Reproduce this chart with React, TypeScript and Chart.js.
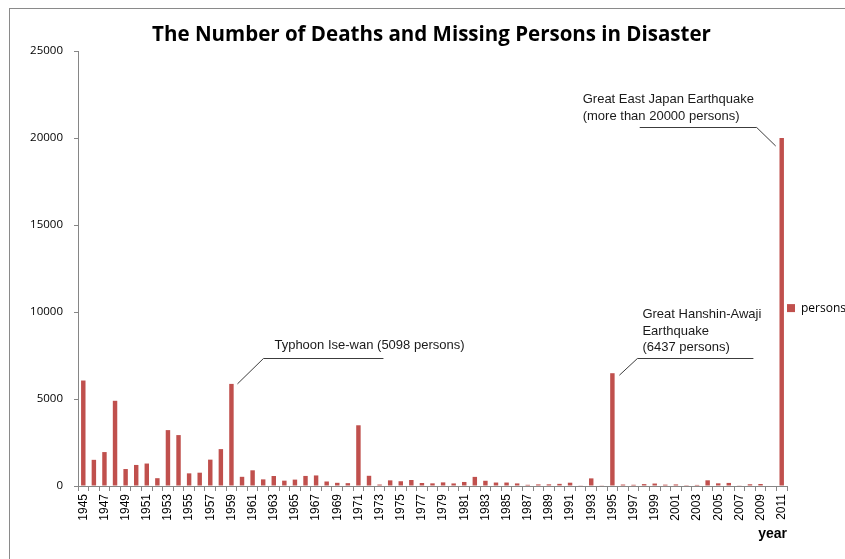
import React, { useEffect, useRef } from 'react';
import { Chart, registerables } from 'chart.js';

Chart.register(...registerables);

// ---- data ----
const years = [
  '1945', '1946', '1947', '1948', '1949', '1950', '1951', '1952', '1953', '1954',
  '1955', '1956', '1957', '1958', '1959', '1960', '1961', '1962', '1963', '1964',
  '1965', '1966', '1967', '1968', '1969', '1970', '1971', '1972', '1973', '1974',
  '1975', '1976', '1977', '1978', '1979', '1980', '1981', '1982', '1983', '1984',
  '1985', '1986', '1987', '1988', '1989', '1990', '1991', '1992', '1993', '1994',
  '1995', '1996', '1997', '1998', '1999', '2000', '2001', '2002', '2003', '2004',
  '2005', '2006', '2007', '2008', '2009', '2010', '2011',
];

const persons = [
  6062, 1504, 1950, 4897, 975, 1210, 1291, 449, 3212, 2926,
  727, 765, 1515, 2120, 5868, 528, 902, 381, 575, 307,
  367, 578, 607, 259, 183, 163, 3490, 587, 85, 324,
  273, 345, 174, 153, 208, 148, 232, 524, 301, 199,
  199, 148, 69, 93, 96, 123, 190, 19, 438, 39,
  6482, 84, 71, 109, 141, 78, 90, 48, 62, 327,
  153, 177, 39, 100, 115, 0, 20000,
];

const yTickValues = [0, 5000, 10000, 15000, 20000, 25000];
const seriesLabel = 'persons';
const chartTitle = 'The Number of Deaths and Missing Persons in Disaster';
const xAxisTitle = 'year';

const annotationYears = ['1959', '1995', '2011'];
const annotationTexts = [
  ['Typhoon Ise-wan (5098 persons)'],
  ['Great Hanshin-Awaji', 'Earthquake', '(6437 persons)'],
  ['Great East Japan Earthquake', '(more than 20000 persons)'],
];

// leader-line / label offsets (px) relative to the top-centre of the annotated bar
const annotationLayout = [
  { textX: 43, textY: [-38.5], tail: [152, -26], elbow: [32, -26], tip: [6, 0] },
  { textX: 30, textY: [-59, -42, -26], tail: [141, -15], elbow: [25, -15], tip: [7, 2] },
  { textX: -199, textY: [-39, -22], tail: [-142, -11], elbow: [-25, -11], tip: [-6, 8] },
];

const leaderPlugin = {
  id: 'leaders',
  afterDatasetsDraw(chart: any) {
    const meta = chart.getDatasetMeta(0);
    const ctx = chart.ctx;
    ctx.save();
    annotationYears.forEach((yr, k) => {
      const idx = years.indexOf(yr);
      const el = meta.data[idx];
      if (!el) return;
      const bx = el.x;
      const by = el.y;
      const L = annotationLayout[k];
      ctx.strokeStyle = '#3c3c3c';
      ctx.lineWidth = 1;
      ctx.beginPath();
      ctx.moveTo(bx + L.tail[0], Math.round(by + L.tail[1]) + 0.5);
      ctx.lineTo(bx + L.elbow[0], Math.round(by + L.elbow[1]) + 0.5);
      ctx.lineTo(bx + L.tip[0], by + L.tip[1]);
      ctx.stroke();
      ctx.fillStyle = '#1a1a1a';
      ctx.font = '13px "Liberation Sans", Arial, sans-serif';
      ctx.textBaseline = 'middle';
      ctx.textAlign = 'left';
      annotationTexts[k].forEach((t, i) => {
        ctx.fillText(t, bx + L.textX, by + L.textY[i]);
      });
    });
    ctx.restore();
  },
};

export default function App() {
  const canvasRef = useRef<HTMLCanvasElement | null>(null);

  useEffect(() => {
    if (!canvasRef.current) return;
    const axisColor = '#868686';
    const chart = new Chart(canvasRef.current, {
      type: 'bar',
      data: {
        labels: years,
        datasets: [
          {
            label: seriesLabel,
            data: persons,
            backgroundColor: '#C0504D',
            borderWidth: 0,
            barPercentage: 0.42,
            categoryPercentage: 1,
          },
        ],
      },
      options: {
        animation: false,
        responsive: true,
        maintainAspectRatio: false,
        layout: { padding: { left: 18, right: 0, top: 0, bottom: 0 } },
        plugins: {
          title: {
            display: true,
            text: chartTitle,
            color: '#000',
            font: { family: '"Open Sans", sans-serif', size: 20.5, weight: 'bold', lineHeight: 1.2 },
            padding: { top: 22.7, bottom: 3.7 },
          },
          legend: {
            position: 'right',
            maxWidth: 58,
            title: { display: true, text: '', font: { size: 11 }, padding: 22 },
            labels: {
              boxWidth: 8,
              boxHeight: 8,
              padding: 0,
              color: '#000',
              font: { family: '"Open Sans", sans-serif', size: 12 },
            },
          },
          tooltip: { enabled: false },
        },
        scales: {
          x: {
            grid: {
              display: true,
              drawOnChartArea: false,
              drawTicks: true,
              tickLength: 5,
              color: axisColor,
              offset: true,
            },
            border: { color: axisColor },
            ticks: {
              autoSkip: false,
              maxRotation: 90,
              minRotation: 90,
              padding: 3,
              color: '#000',
              font: { family: '"Liberation Sans", Arial, sans-serif', size: 12 },
              callback: (_v: any, i: number) => (i % 2 === 0 ? years[i] : ''),
            },
            title: {
              display: true,
              text: xAxisTitle,
              align: 'end',
              color: '#000',
              font: { family: '"Liberation Sans", Arial, sans-serif', size: 14, weight: 'bold' },
              padding: { top: 0, bottom: 16 },
            },
            afterFit: (s: any) => {
              s.height = 73;
            },
          },
          y: {
            min: yTickValues[0],
            max: yTickValues[yTickValues.length - 1],
            grid: {
              display: true,
              drawOnChartArea: false,
              drawTicks: true,
              tickLength: 4,
              color: axisColor,
            },
            border: { color: axisColor },
            ticks: {
              stepSize: yTickValues[1] - yTickValues[0],
              padding: 11,
              color: '#000',
              font: { family: '"Open Sans", sans-serif', size: 11.5 },
              callback: (v: any) => String(v),
            },
            afterFit: (s: any) => {
              s.width = 60;
            },
          },
        },
      },
      plugins: [leaderPlugin],
    } as any);
    return () => chart.destroy();
  }, []);

  return (
    <div
      style={{
        position: 'fixed',
        left: 0,
        top: 0,
        width: 845,
        height: 559,
        background: '#fff',
        overflow: 'hidden',
      }}
    >
      <div
        style={{
          position: 'absolute',
          left: 9,
          top: 8,
          width: 900,
          height: 600,
          border: '1px solid #8a8a8a',
          boxSizing: 'border-box',
        }}
      />
      <div style={{ position: 'absolute', left: 0, top: 0, width: 845, height: 559 }}>
        <canvas ref={canvasRef} />
      </div>
    </div>
  );
}
